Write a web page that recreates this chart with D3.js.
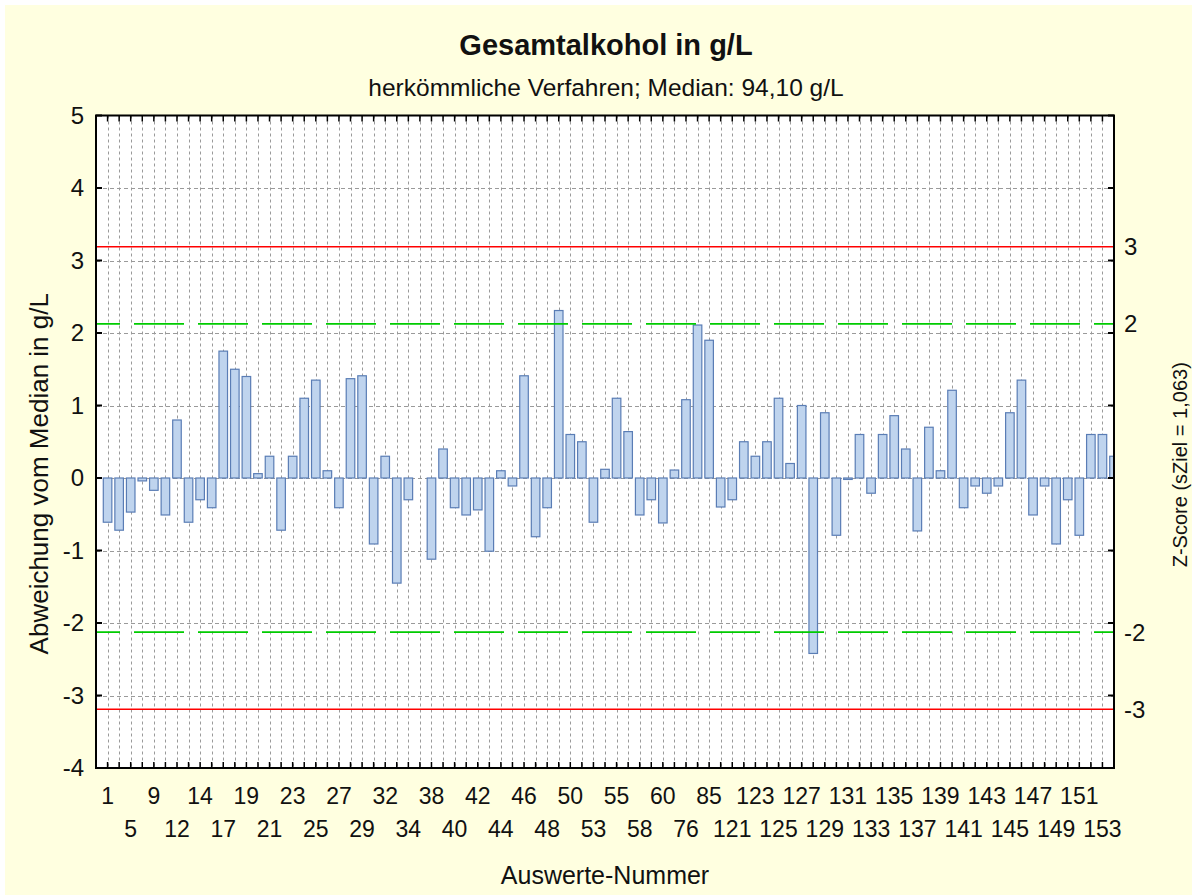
<!DOCTYPE html>
<html>
<head>
<meta charset="utf-8">
<script src="https://cdn.jsdelivr.net/npm/d3@7"></script>
<style>
  html, body { margin: 0; padding: 0; background: #ffffff; }
  svg { display: block; font-family: "Liberation Sans", Arial, sans-serif; }
</style>
</head>
<body>
<svg id="chart" width="1192" height="895"></svg>
<script>
// ---- data ----
const categories = ["1","3","5","7","9","10","12","13","14","15","17","18","19","20","21","22",
  "23","24","25","26","27","28","29","30","32","33","34","36","38","39","40","41","42","43",
  "44","45","46","47","48","49","50","51","53","54","55","56","58","59","60","62","76","80",
  "85","120","121","122","123","124","125","126","127","128","129","130","131","132","133",
  "134","135","136","137","138","139","140","141","142","143","144","145","146","147","148",
  "149","150","151","152","153","154"];
const deviations = [-0.61,-0.72,-0.47,-0.04,-0.17,-0.51,0.80,-0.61,-0.30,-0.41,
  1.75,1.50,1.40,0.06,0.30,-0.72,0.30,1.10,1.35,0.10,
  -0.41,1.37,1.41,-0.91,0.30,-1.45,-0.30,null,-1.12,0.40,
  -0.41,-0.51,-0.44,-1.01,0.10,-0.11,1.41,-0.81,-0.41,2.31,
  0.60,0.50,-0.61,0.12,1.10,0.64,-0.51,-0.30,-0.62,0.11,
  1.08,2.11,1.90,-0.40,-0.30,0.50,0.30,0.50,1.10,0.20,
  1.00,-2.42,0.90,-0.79,-0.02,0.60,-0.21,0.60,0.86,0.40,
  -0.73,0.70,0.10,1.21,-0.41,-0.11,-0.21,-0.11,0.90,1.35,
  -0.51,-0.11,-0.91,-0.30,-0.79,0.60,0.60,0.30];
const yTicks = [-4,-3,-2,-1,0,1,2,3,4,5];
const zTicks = [3,2,-2,-3];
const sZiel = 1.063;
const title = "Gesamtalkohol in g/L";
const subtitle = "herkömmliche Verfahren; Median: 94,10 g/L";
const xTitle = "Auswerte-Nummer";
const yTitle = "Abweichung vom Median in g/L";
const zTitle = "Z-Score (sZiel = 1,063)";

// ---- layout ----
const W = 1192, H = 895;
const L = 96, R = 1114, T = 115.5, B = 768;
const svg = d3.select("#chart");

svg.append("rect").attr("x", 5).attr("y", 5).attr("width", W - 5).attr("height", H - 5)
  .attr("fill", "#ffffe0");

const x = d3.scaleLinear().domain([0, categories.length]).range([L, R]);
const y = d3.scaleLinear().domain([-4, 5]).range([B, T]);
const band = x(1) - x(0);

svg.append("clipPath").attr("id", "plotclip").append("rect")
  .attr("x", L).attr("y", T).attr("width", R - L).attr("height", B - T);

svg.append("rect").attr("x", L).attr("y", T).attr("width", R - L).attr("height", B - T)
  .attr("fill", "#ffffff");

const plot = svg.append("g").attr("clip-path", "url(#plotclip)");

// grid
plot.append("g").selectAll("line").data(categories).join("line")
  .attr("x1", (d, i) => Math.round(x(i + 1)) + 0.5).attr("x2", (d, i) => Math.round(x(i + 1)) + 0.5)
  .attr("y1", T).attr("y2", B)
  .attr("stroke", "#9a9a9a").attr("stroke-width", 1).attr("stroke-dasharray", "3,3");
plot.append("g").selectAll("line").data(yTicks.filter(t => t > -4 && t < 5)).join("line")
  .attr("x1", L).attr("x2", R)
  .attr("y1", d => Math.round(y(d)) + 0.5).attr("y2", d => Math.round(y(d)) + 0.5)
  .attr("stroke", "#9a9a9a").attr("stroke-width", 1).attr("stroke-dasharray", "4,3");

// bars
const bw = band * 0.74;
plot.append("g").selectAll("rect")
  .data(deviations.map((v, i) => ({ v, i })).filter(d => d.v !== null))
  .join("rect")
  .attr("x", d => x(d.i + 1) - bw / 2)
  .attr("width", bw)
  .attr("y", d => y(Math.max(0, d.v)))
  .attr("height", d => Math.max(1, Math.abs(y(d.v) - y(0))))
  .attr("fill", "#bfd4ee")
  .attr("stroke", "#5a7db5")
  .attr("stroke-width", 1.2);

// reference lines
[3, -3].forEach(z => {
  plot.append("line").attr("x1", L).attr("x2", R)
    .attr("y1", y(z * sZiel)).attr("y2", y(z * sZiel))
    .attr("stroke", "#ff0000").attr("stroke-width", 1.6);
});
[2, -2].forEach(z => {
  plot.append("line").attr("x1", L).attr("x2", R)
    .attr("y1", y(z * sZiel)).attr("y2", y(z * sZiel))
    .attr("stroke", "#00cc00").attr("stroke-width", 1.8)
    .attr("stroke-dasharray", "50,14").attr("stroke-dashoffset", 26);
});

// frame
svg.append("rect").attr("x", L).attr("y", T).attr("width", R - L).attr("height", B - T)
  .attr("fill", "none").attr("stroke", "#000").attr("stroke-width", 2);

// ticks via axes
const tickFmt = d => d < 0 ? "-" + Math.abs(d) : String(d);
const leftAxis = d3.axisLeft(y).tickValues(yTicks).tickSize(0).tickPadding(12).tickFormat(tickFmt);
const gL = svg.append("g").attr("transform", `translate(${L},0)`).call(leftAxis);
gL.select(".domain").remove();
gL.selectAll("text").attr("font-size", 24).attr("fill", "#111").attr("font-family", "Liberation Sans, Arial, sans-serif");

// inward tick marks left/right
svg.append("g").selectAll("line").data(yTicks).join("line")
  .attr("x1", L).attr("x2", L + 6).attr("y1", d => y(d)).attr("y2", d => y(d))
  .attr("stroke", "#000").attr("stroke-width", 2);
svg.append("g").selectAll("line").data(yTicks).join("line")
  .attr("x1", R - 6).attr("x2", R).attr("y1", d => y(d)).attr("y2", d => y(d))
  .attr("stroke", "#000").attr("stroke-width", 2);
// inward tick marks top/bottom
svg.append("g").selectAll("line").data(categories).join("line")
  .attr("x1", (d, i) => x(i + 1)).attr("x2", (d, i) => x(i + 1))
  .attr("y1", B - 6).attr("y2", B).attr("stroke", "#000").attr("stroke-width", 1.5);
svg.append("g").selectAll("line").data(categories).join("line")
  .attr("x1", (d, i) => x(i + 1)).attr("x2", (d, i) => x(i + 1))
  .attr("y1", T).attr("y2", T + 6).attr("stroke", "#000").attr("stroke-width", 1.5);

// x labels, every other category, alternating rows
const labeled = categories.map((c, i) => ({ c, i })).filter(d => d.i % 2 === 0);
svg.append("g").selectAll("text").data(labeled).join("text")
  .attr("x", d => x(d.i + 1))
  .attr("y", (d, k) => k % 2 === 0 ? 804 : 837)
  .attr("text-anchor", "middle")
  .attr("font-size", 23).attr("fill", "#111")
  .text(d => d.c);

// right z-score labels
svg.append("g").selectAll("text").data(zTicks).join("text")
  .attr("x", 1124).attr("y", d => y(d * sZiel)).attr("dy", "0.35em")
  .attr("font-size", 24).attr("fill", "#111")
  .text(d => d < 0 ? "-" + Math.abs(d) : String(d));

// titles
svg.append("text").attr("x", 606).attr("y", 55).attr("text-anchor", "middle")
  .attr("font-size", 29).attr("font-weight", "bold").attr("fill", "#111").text(title);
svg.append("text").attr("x", 606).attr("y", 96).attr("text-anchor", "middle")
  .attr("font-size", 24.5).attr("fill", "#111").text(subtitle);
svg.append("text").attr("x", 605).attr("y", 884).attr("text-anchor", "middle")
  .attr("font-size", 25).attr("fill", "#111").text(xTitle);
svg.append("text").attr("transform", `translate(48,${(T + B) / 2 + 32}) rotate(-90)`)
  .attr("text-anchor", "middle").attr("font-size", 26).attr("fill", "#111").text(yTitle);
svg.append("text").attr("transform", `translate(1187,${(T + B) / 2 + 23}) rotate(-90)`)
  .attr("text-anchor", "middle").attr("font-size", 20).attr("fill", "#111").text(zTitle);
</script>
</body>
</html>
